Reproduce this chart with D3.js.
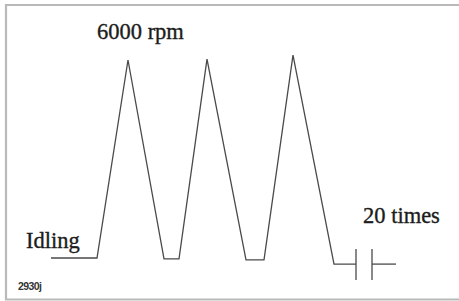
<!DOCTYPE html>
<html lang="en">
<head>
    <meta charset="UTF-8">
    <title>Engine speed cycle</title>
    <script src="https://d3js.org/d3.v7.min.js"></script>
    <style>
        body {
            margin: 0;
            padding: 0;
            background-color: #fff;
        }
        svg {
            display: block;
        }
        .label {
            font-family: "Liberation Serif", "Times New Roman", serif;
            font-size: 22.5px;
            fill: #1c1c1c;
            stroke: #1c1c1c;
            stroke-width: 0.35px;
        }
        .code {
            font-family: "Liberation Sans", Arial, sans-serif;
            font-size: 10.5px;
            font-weight: bold;
            letter-spacing: -0.6px;
            fill: #333;
        }
    </style>
</head>
<body>
    <div id="chart"></div>

    <script>
        const width = 459;
        const height = 301;

        // cycle profile: time (s) and engine speed (rpm)
        const times = [0, 9.2, 15.4, 22.6, 25.6, 31.2, 39, 42.6, 48.4, 56.6, 61];
        const rpms = [800, 800, 6000, 775, 775, 6025, 750, 750, 6130, 640, 640];
        // continuation after the break mark
        const tailTimes = [64.2, 69];
        const tailRpm = [640, 640];
        const breakTimes = [61, 64.2];

        const labels = [
            { text: "6000 rpm", x: 97, y: 39 },
            { text: "Idling", x: 26, y: 248 },
            { text: "20 times", x: 363, y: 223 }
        ];

        const svg = d3.select("#chart")
            .append("svg")
            .attr("width", width)
            .attr("height", height);

        // frame (scan has no right edge)
        svg.append("path")
            .attr("d", "M459,5 L6,5 L6,299.5 L459,299.5")
            .attr("fill", "none")
            .attr("stroke", "#b9b9b9")
            .attr("stroke-width", 2.2);

        const x = d3.scaleLinear().domain([0, 69]).range([51, 396]);
        const y = d3.scaleLinear().domain([800, 6000]).range([258, 60]);

        const line = d3.line()
            .x(d => x(d[0]))
            .y(d => y(d[1]));

        svg.append("path")
            .datum(d3.zip(times, rpms))
            .attr("d", line)
            .attr("fill", "none")
            .attr("stroke", "#4a4a4a")
            .attr("stroke-width", 1.3)
            .attr("stroke-linejoin", "miter");

        svg.append("path")
            .datum(d3.zip(tailTimes, tailRpm))
            .attr("d", line)
            .attr("fill", "none")
            .attr("stroke", "#4a4a4a")
            .attr("stroke-width", 1.3);

        // break symbol
        svg.selectAll("line.break")
            .data(breakTimes)
            .enter()
            .append("line")
            .attr("class", "break")
            .attr("x1", d => x(d))
            .attr("x2", d => x(d))
            .attr("y1", y(640) - 15)
            .attr("y2", y(640) + 16)
            .attr("stroke", "#4a4a4a")
            .attr("stroke-width", 1.3);

        svg.selectAll("text.label")
            .data(labels)
            .enter()
            .append("text")
            .attr("class", "label")
            .attr("x", d => d.x)
            .attr("y", d => d.y)
            .text(d => d.text);

        svg.append("text")
            .attr("class", "code")
            .attr("x", 18)
            .attr("y", 290)
            .text("2930j");
    </script>
</body>
</html>
